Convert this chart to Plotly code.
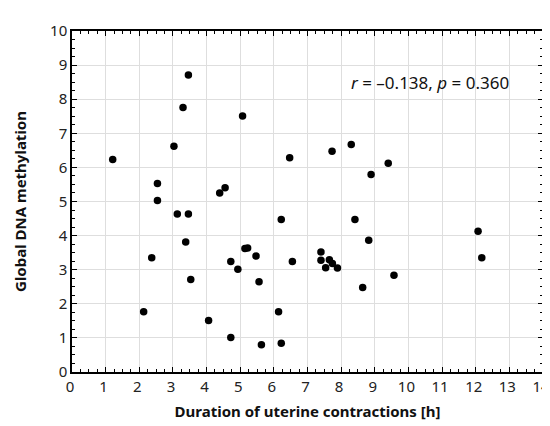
import plotly.graph_objects as go

duration_h = [1.21, 3.46, 3.30, 5.07, 3.03, 6.47, 2.54, 2.54, 4.55, 4.39,
              7.73, 8.30, 8.89, 9.40,
              3.13, 3.46, 6.22, 3.38, 5.14, 5.22, 2.37, 5.47, 4.72, 6.55,
              4.93, 3.53, 5.56, 2.13, 6.14, 4.06, 4.72, 5.63, 6.22,
              8.41, 8.82, 12.07, 12.18, 7.40, 7.40, 7.65, 7.74, 7.54, 7.89,
              9.57, 8.64]
methylation = [6.23, 8.71, 7.76, 7.51, 6.62, 6.28, 5.53, 5.03, 5.40, 5.25,
               6.47, 6.67, 5.79, 6.12,
               4.63, 4.63, 4.47, 3.81, 3.62, 3.64, 3.35, 3.40, 3.24, 3.24,
               3.01, 2.71, 2.65, 1.77, 1.77, 1.51, 1.01, 0.80, 0.84,
               4.47, 3.86, 4.13, 3.35, 3.52, 3.28, 3.29, 3.18, 3.06, 3.05,
               2.84, 2.48]

x_ticks = list(range(0, 15))
y_ticks = list(range(0, 11))
stat_text = "<i>r</i> = –0.138, <i>p</i> = 0.360"

FONT = "Noto Sans"

fig = go.Figure()
fig.add_trace(go.Scatter(
    x=duration_h, y=methylation, mode="markers",
    marker=dict(color="black", size=7.5),
    showlegend=False,
))

axis_common = dict(
    showline=True, linecolor="black", linewidth=1.5, mirror="allticks",
    ticks="inside", ticklen=5, tickwidth=1.2, tickcolor="black",
    showgrid=True, gridcolor="#dedede", gridwidth=1.3,
    zeroline=False,
    minor=dict(ticks="inside", ticklen=3, tickwidth=1, tickcolor="black", dtick=0.25, showgrid=False),
    tickfont=dict(family=FONT, size=15, color="#222"),
    ticklabeloverflow="allow",
)

fig.update_xaxes(range=[0, 14], tickvals=x_ticks, ticklabelshift=-2,
                 title=dict(text="<b>Duration of uterine contractions [h]</b>",
                            font=dict(family=FONT, size=15, color="#111"), standoff=12),
                 **axis_common)
fig.update_yaxes(range=[0, 10], tickvals=y_ticks,
                 title=dict(text="<b>Global DNA methylation</b>",
                            font=dict(family=FONT, size=15, color="#111"), standoff=20),
                 **axis_common)

fig.add_annotation(x=10.65, y=8.48, xref="x", yref="y", text=stat_text,
                   showarrow=False, font=dict(family=FONT, size=17, color="#111"))

fig.update_layout(
    width=550, height=426,
    margin=dict(l=64, r=8, t=23, b=62),
    plot_bgcolor="white", paper_bgcolor="white",
)

fig.write_html("out.html")
